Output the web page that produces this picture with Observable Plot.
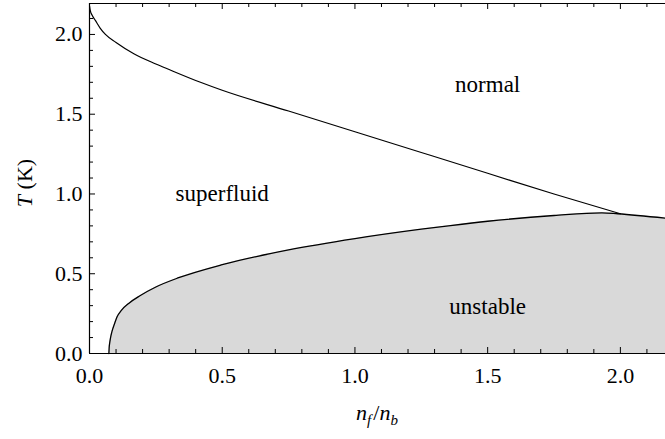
<!DOCTYPE html>
<html>
<head>
<meta charset="utf-8">
<script src="https://cdn.jsdelivr.net/npm/d3@7"></script>
<script src="https://cdn.jsdelivr.net/npm/@observablehq/plot@0.6"></script>
<style>
  html, body { margin: 0; padding: 0; background: #fff; }
  #chart text, #chart tspan { font-family: 'Liberation Serif', 'Times New Roman', serif !important; }
</style>
</head>
<body>
<div id="chart"></div>
<script>
// Normal / superfluid boundary
const upperN = [0, 0.003, 0.01, 0.022, 0.04, 0.06, 0.1, 0.167, 0.25, 0.3, 0.418, 0.5, 0.75, 1.0, 1.25, 1.5, 1.75, 2.0];
const upperT = [2.18, 2.15, 2.12, 2.088, 2.04, 2.0, 1.95, 1.879, 1.815, 1.78, 1.70, 1.65, 1.52, 1.39, 1.26, 1.13, 1.00, 0.876];

// Unstable region boundary
const lowerN = [0.073, 0.074, 0.076, 0.079, 0.085, 0.095, 0.104, 0.12, 0.15, 0.19, 0.25, 0.336, 0.5, 0.75, 1.0, 1.25, 1.36, 1.5, 1.75, 1.93, 1.99, 2.17];
const lowerT = [0.0, 0.035, 0.065, 0.097, 0.14, 0.19, 0.23, 0.27, 0.317, 0.362, 0.417, 0.475, 0.557, 0.649, 0.72, 0.779, 0.802, 0.829, 0.865, 0.882, 0.876, 0.848];

// Region labels
const labelText = ["normal", "superfluid", "unstable"];
const labelN = [1.5, 0.5, 1.5];
const labelT = [1.638, 0.953, 0.245];

// Ticks
const xMajor = [0.0, 0.5, 1.0, 1.5, 2.0];
const xMinor = [0.1, 0.2, 0.3, 0.4, 0.6, 0.7, 0.8, 0.9, 1.1, 1.2, 1.3, 1.4, 1.6, 1.7, 1.8, 1.9, 2.1];
const yMajor = [0.0, 0.5, 1.0, 1.5, 2.0];
const yMinor = [0.1, 0.2, 0.3, 0.4, 0.6, 0.7, 0.8, 0.9, 1.1, 1.2, 1.3, 1.4, 1.6, 1.7, 1.8, 1.9, 2.1];

const xDomain = [0, 2.17];
const yDomain = [0, 2.194];

const upper = upperN.map((n, i) => ({n, T: upperT[i]}));
const lower = lowerN.map((n, i) => ({n, T: lowerT[i]}));
const labels = labelText.map((t, i) => ({t, n: labelN[i], T: labelT[i]}));

const W = 665, H = 439;
const mL = 89, mR = 0, mT = 3, mB = 86;
const fw = W - mL - mR, fh = H - mT - mB;
const major = 6, minor = 4;
const serif = "'Liberation Serif', 'Times New Roman', serif";

const svg = Plot.plot({
  width: W,
  height: H,
  marginLeft: mL,
  marginRight: mR,
  marginTop: mT,
  marginBottom: mB,
  style: {fontFamily: serif, fontSize: "22px", background: "#fff", color: "#000"},
  x: {domain: xDomain, ticks: xMajor, tickSize: 0, tickPadding: 14, tickFormat: d3.format(".1f"), label: null},
  y: {domain: yDomain, ticks: yMajor, tickSize: 0, tickPadding: 7, tickFormat: d3.format(".1f"), label: null},
  marks: [
    Plot.areaY(lower, {x: "n", y1: 0, y2: "T", fill: "#d9d9d9", curve: "monotone-x"}),
    Plot.line(lower, {x: "n", y: "T", stroke: "#000", strokeWidth: 1.3, curve: "monotone-x"}),
    Plot.line(upper, {x: "n", y: "T", stroke: "#000", strokeWidth: 1.2, curve: "monotone-x"}),
    Plot.text(labels, {x: "n", y: "T", text: "t", fontSize: 23, fontFamily: serif, lineAnchor: "bottom", textAnchor: "middle", fill: "#000"}),
    // frame
    Plot.ruleX([xDomain[0]], {stroke: "#000", strokeWidth: 1.2}),
    Plot.ruleY([yDomain[0], yDomain[1]], {stroke: "#000", strokeWidth: 1.2}),
    // ticks bottom
    Plot.tickX(xMajor, {x: d => d, insetTop: fh - major, stroke: "#000"}),
    Plot.tickX(xMinor, {x: d => d, insetTop: fh - minor, stroke: "#000"}),
    // ticks top
    Plot.tickX(xMajor, {x: d => d, insetBottom: fh - major, stroke: "#000"}),
    Plot.tickX(xMinor, {x: d => d, insetBottom: fh - minor, stroke: "#000"}),
    // ticks left
    Plot.tickY(yMajor, {y: d => d, insetRight: fw - major, stroke: "#000"}),
    Plot.tickY(yMinor, {y: d => d, insetRight: fw - minor, stroke: "#000"})
  ]
});

const s = d3.select(svg);

// y axis label: T (K)
const yl = s.append("text")
  .attr("transform", `translate(32, ${mT + fh / 2 + 5}) rotate(-90)`)
  .attr("text-anchor", "middle")
  .attr("font-size", 22)
  .attr("font-family", serif)
  .attr("fill", "#000");
yl.append("tspan").attr("font-style", "italic").text("T");
yl.append("tspan").text(" (K)");

// x axis label: n_f / n_b
const xl = s.append("text")
  .attr("x", mL + fw / 2)
  .attr("y", 420)
  .attr("text-anchor", "middle")
  .attr("font-size", 22)
  .attr("font-family", serif)
  .attr("fill", "#000");
xl.append("tspan").attr("font-style", "italic").text("n");
xl.append("tspan").attr("font-style", "italic").attr("font-size", 15).attr("dy", 5).text("f");
xl.append("tspan").attr("dy", -5).attr("dx", 2).text("/");
xl.append("tspan").attr("font-style", "italic").text("n");
xl.append("tspan").attr("font-style", "italic").attr("font-size", 15).attr("dy", 5).text("b");

document.getElementById("chart").appendChild(svg);
</script>
</body>
</html>
